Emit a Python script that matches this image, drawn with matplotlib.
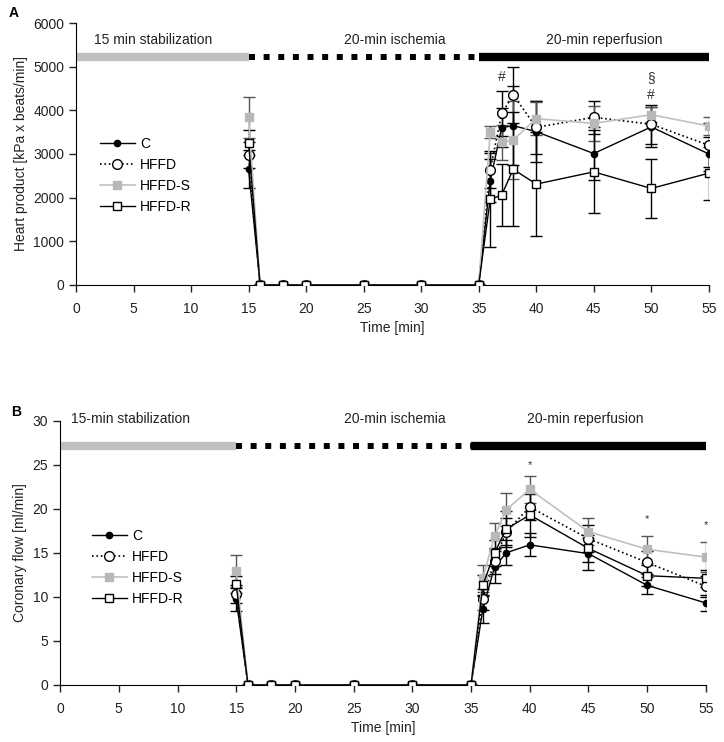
import numpy as np
import matplotlib
matplotlib.use("Agg")
import matplotlib.pyplot as plt

plt.rcParams['font.family'] = ['Liberation Sans', 'DejaVu Sans']
plt.rcParams['font.size'] = 10

# time points (min)
time = [15, 16, 18, 20, 25, 30, 35, 36, 37, 38, 40, 45, 50, 55]
series = ['C', 'HFFD', 'HFFD-S', 'HFFD-R']

# panel A: heart product [kPa x beats/min]
hp_C = [2650, 0, 0, 0, 0, 0, 0, 2390, 3600, 3650, 3510, 3010, 3620, 3000]
hp_HFFD = [2980, 0, 0, 0, 0, 0, 0, 2630, 3930, 4350, 3610, 3840, 3680, 3200]
hp_HFFDS = [3840, 0, 0, 0, 0, 0, 0, 3500, 3270, 3320, 3810, 3700, 3900, 3640]
hp_HFFDR = [3260, 0, 0, 0, 0, 0, 0, 1960, 2060, 2650, 2310, 2590, 2210, 2560]
hp_err_C = [430, 0, 0, 0, 0, 0, 0, 500, 450, 900, 700, 600, 450, 400]
hp_err_HFFD = [300, 0, 0, 0, 0, 0, 0, 400, 510, 650, 600, 380, 450, 500]
hp_err_HFFDS = [470, 0, 0, 0, 0, 0, 0, 130, 400, 900, 380, 400, 170, 200]
hp_err_HFFDR = [280, 0, 0, 0, 0, 0, 0, 1100, 700, 1300, 1190, 950, 680, 610]

# panel B: coronary flow [ml/min]
cf_C = [9.7, 0, 0, 0, 0, 0, 0, 8.6, 13.4, 15.0, 15.9, 14.9, 11.3, 9.3]
cf_HFFD = [10.3, 0, 0, 0, 0, 0, 0, 9.7, 14.1, 17.4, 20.2, 16.6, 13.9, 11.2]
cf_HFFDS = [12.9, 0, 0, 0, 0, 0, 0, 12.1, 16.9, 19.9, 22.2, 17.4, 15.4, 14.5]
cf_HFFDR = [11.4, 0, 0, 0, 0, 0, 0, 11.3, 15.0, 17.7, 19.3, 15.5, 12.4, 12.1]
cf_err_C = [1.3, 0, 0, 0, 0, 0, 0, 1.6, 1.8, 1.4, 1.3, 1.8, 1.0, 0.9]
cf_err_HFFD = [1.0, 0, 0, 0, 0, 0, 0, 1.2, 1.5, 1.5, 1.5, 1.5, 1.3, 1.2]
cf_err_HFFDS = [1.8, 0, 0, 0, 0, 0, 0, 1.5, 1.45, 1.9, 1.5, 1.55, 1.55, 1.7]
cf_err_HFFDR = [1.0, 0, 0, 0, 0, 0, 0, 1.2, 1.5, 2.0, 2.5, 1.5, 1.2, 1.0]

# protocol phases
phase_edges = [0, 15, 35, 55]
phase_names_A = ['15 min stabilization', '20-min ischemia', '20-min reperfusion']
phase_names_B = ['15-min stabilization', '20-min ischemia', '20-min reperfusion']

# significance marks (x, y, symbol)
marks_A = [(37, 4770, '#'), (50, 4740, '§'), (50, 4350, '#')]
marks_B = [(40, 25.0, '*'), (50, 18.8, '*'), (55, 18.2, '*')]

styles = {
    'C': dict(color='black', ls='-', lw=1.0, marker='o', ms=4.5, mfc='black', mec='black'),
    'HFFD': dict(color='black', ls=':', lw=1.2, marker='o', ms=7, mfc='white', mec='black'),
    'HFFD-S': dict(color='#c0c0c0', ls='-', lw=1.2, marker='s', ms=6, mfc='#b8b8b8', mec='#b8b8b8'),
    'HFFD-R': dict(color='black', ls='-', lw=1.0, marker='s', ms=6, mfc='white', mec='black'),
}


def draw_panel(ax, data, errs, ymax, ystep, bar_y, text_y, names, marks, ylabel,
               text_x, legend_anchor, mark_size):
    for name, vals, err in zip(series, data, errs):
        st = styles[name]
        ecol = '#555555' if name == 'HFFD-S' else 'black'
        ax.errorbar(time, vals, yerr=err, fmt='none', ecolor=ecol, elinewidth=1.0,
                    capsize=4, capthick=1.0, zorder=2)
        ax.plot(time, vals, label=name, zorder=3, **st)

    # protocol bars
    ax.plot(phase_edges[0:2], [bar_y, bar_y], color='#c0c0c0', lw=6,
            solid_capstyle='butt', clip_on=False)
    ax.plot(phase_edges[1:3], [bar_y, bar_y], color='black', lw=4.3,
            linestyle=(0, (1, 1.45)), dash_capstyle='butt', clip_on=False)
    ax.plot(phase_edges[2:4], [bar_y, bar_y], color='black', lw=6,
            solid_capstyle='butt', clip_on=False)
    for tx, name in zip(text_x, names):
        ax.text(tx, text_y, name, ha='center', va='center', fontsize=10, color='#222222')

    for mx, my, sym in marks:
        ax.text(mx, my, sym, ha='center', va='center', fontsize=mark_size, color='#333333')

    ax.set_xlim(0, 55)
    ax.set_ylim(0, ymax)
    ax.set_xticks(np.arange(0, 56, 5))
    ax.set_yticks(np.arange(0, ymax + 1, ystep))
    ax.spines['top'].set_visible(False)
    ax.spines['right'].set_visible(False)
    ax.tick_params(direction='out', length=5, width=1, labelsize=10, colors='#222222')
    ax.tick_params(axis='x', pad=7)
    ax.set_xlabel('Time [min]', fontsize=10, color='#222222')
    ax.set_ylabel(ylabel, fontsize=10, color='#222222')
    ax.legend(loc='center left', bbox_to_anchor=legend_anchor, frameon=False,
              handlelength=2.5, handletextpad=0.4, labelspacing=0.5, fontsize=10)


fig = plt.figure(figsize=(7.24, 7.42), dpi=100)
axA = fig.add_axes([0.105, 0.616, 0.874, 0.353])
axB = fig.add_axes([0.083, 0.077, 0.892, 0.356])

draw_panel(axA, [hp_C, hp_HFFD, hp_HFFDS, hp_HFFDR],
           [hp_err_C, hp_err_HFFD, hp_err_HFFDS, hp_err_HFFDR],
           6000, 1000, 5220, 5600, phase_names_A, marks_A,
           'Heart product [kPa x beats/min]', [6.7, 27.7, 45.9], (0.018, 0.418), 10)
draw_panel(axB, [cf_C, cf_HFFD, cf_HFFDS, cf_HFFDR],
           [cf_err_C, cf_err_HFFD, cf_err_HFFDS, cf_err_HFFDR],
           30, 5, 27.1, 30.2, phase_names_B, marks_B,
           'Coronary flow [ml/min]', [6.0, 28.5, 44.7], (0.03, 0.445), 8)

fig.text(0.012, 0.982, 'A', fontsize=10, fontweight='bold', va='center')
fig.text(0.015, 0.445, 'B', fontsize=10, fontweight='bold', va='center')

fig.savefig('out.png', dpi=100)
